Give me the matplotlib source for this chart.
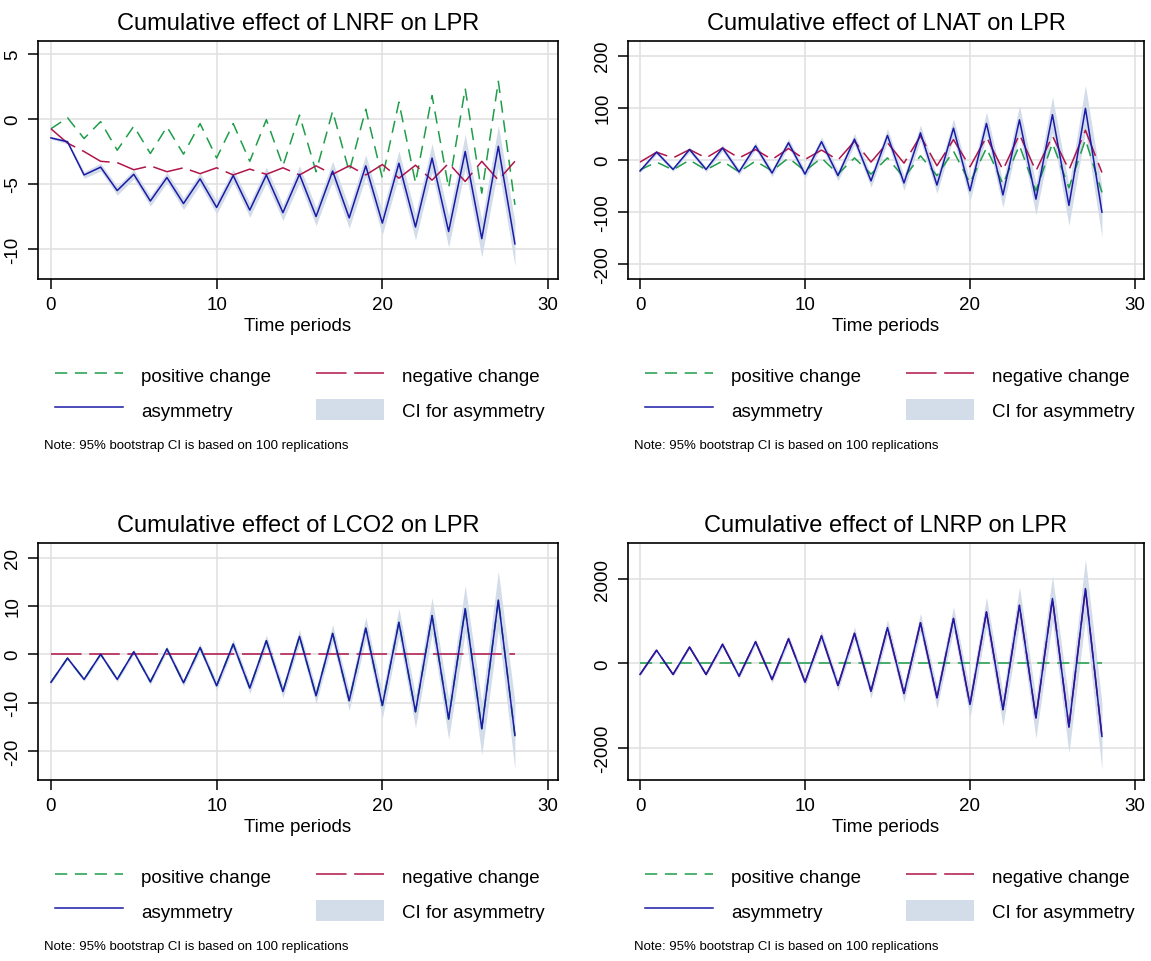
import matplotlib
matplotlib.use("Agg")
import matplotlib.pyplot as plt
from matplotlib.lines import Line2D
from matplotlib.patches import Patch
import numpy as np

plt.rcParams["font.family"] = ["Liberation Sans", "DejaVu Sans"]
plt.rcParams["axes.unicode_minus"] = False

periods = list(range(29))

# --- LNRF ---------------------------------------------------------------
lnrf_pos = [-0.75, 0.1, -1.5, -0.2, -2.4, -0.55, -2.65, -0.6, -2.7, -0.35, -3.0, -0.35,
            -3.25, -0.05, -3.6, 0.3, -4.05, 0.6, -4.05, 0.75, -4.55, 1.3, -4.9, 1.8,
            -5.3, 2.35, -5.7, 2.9, -6.6]
lnrf_neg = [-0.75, -1.85, -2.5, -3.25, -3.35, -3.9, -3.6, -4.05, -3.75, -4.2, -3.75, -4.3,
            -3.85, -4.25, -3.75, -4.3, -3.6, -4.25, -3.6, -4.3, -3.5, -4.55, -3.55, -4.7,
            -3.4, -4.8, -3.25, -4.7, -3.25]
lnrf_asym = [-1.45, -1.75, -4.3, -3.7, -5.5, -4.25, -6.3, -4.5, -6.5, -4.6, -6.8, -4.35,
             -7.0, -4.3, -7.2, -4.25, -7.5, -4.0, -7.6, -3.6, -8.0, -3.4, -8.3, -3.0,
             -8.65, -2.5, -9.2, -2.1, -9.6]
lnrf_ci_hw = [0.1, 0.15, 0.25, 0.3, 0.35, 0.35, 0.4, 0.4, 0.45, 0.45, 0.5, 0.5, 0.55, 0.6,
              0.6, 0.65, 0.7, 0.75, 0.8, 0.85, 0.9, 0.95, 1.0, 1.1, 1.2, 1.3, 1.4, 1.6, 1.7]

# --- LNAT ---------------------------------------------------------------
lnat_pos = [-19, -4, -19, 0, -19, -2, -23, -2, -21, 4, -21, 4, -27, 4, -27, 4, -34, 8,
            -30, 17, -44, 23, -46, 28, -59, 32, -53, 39, -62]
lnat_neg = [-4, 15, 4, 20, 4, 23, 4, 20, 1, 22, 1, 19, 0, 36, -4, 33, -6, 46, -11, 39,
            -13, 44, -19, 49, -21, 46, -19, 57, -24]
lnat_asym = [-21, 15, -18, 20, -18, 23, -23, 27, -25, 33, -27, 35, -30, 40, -40, 47, -44,
             52, -48, 61, -59, 70, -67, 77, -75, 87, -87, 99, -100]
lnat_ci_hw = [3, 4, 4, 5, 5, 6, 6, 7, 7, 8, 8, 9, 10, 11, 12, 13, 14, 15, 16, 18, 20,
              22, 24, 27, 30, 34, 38, 44, 48]

# --- LCO2 ---------------------------------------------------------------
lco2_asym = [-5.8, -0.8, -5.2, 0.0, -5.2, 0.5, -5.7, 1.1, -5.9, 1.4, -6.5, 2.1, -7.0, 2.8,
             -7.7, 3.7, -8.6, 4.3, -9.6, 5.4, -10.6, 6.6, -11.9, 8.0, -13.4, 9.4, -15.4,
             11.2, -16.8]
lco2_pos = [-5.8, -0.8, -5.2, 0.0, -5.2, 0.5, -5.7, 1.1, -5.9, 1.4, -6.5, 2.1, -7.0, 2.8,
            -7.7, 3.7, -8.6, 4.3, -9.6, 5.4, -10.6, 6.6, -11.9, 8.0, -13.4, 9.4, -15.4,
            11.2, -16.8]
lco2_neg = [0.0] * 29
lco2_ci_hw = [0.3, 0.3, 0.4, 0.4, 0.5, 0.5, 0.6, 0.6, 0.7, 0.8, 0.9, 1.0, 1.1, 1.2, 1.3,
              1.4, 1.6, 1.8, 2.0, 2.3, 2.6, 2.9, 3.3, 3.7, 4.2, 4.8, 5.4, 6.0, 7.0]

# --- LNRP ---------------------------------------------------------------
lnrp_asym = [-260, 310, -260, 385, -260, 450, -300, 510, -380, 580, -440, 650, -520, 710,
             -655, 845, -710, 960, -810, 1060, -970, 1215, -1090, 1370, -1285, 1530,
             -1500, 1765, -1720]
lnrp_neg = [-260, 310, -260, 385, -260, 450, -300, 510, -380, 580, -440, 650, -520, 710,
            -655, 845, -710, 960, -810, 1060, -970, 1215, -1090, 1370, -1285, 1530,
            -1500, 1765, -1720]
lnrp_pos = [0.0] * 29
lnrp_ci_hw = [30, 35, 40, 45, 50, 60, 65, 75, 85, 95, 105, 120, 135, 150, 165, 185, 205,
              225, 250, 280, 310, 345, 385, 430, 480, 540, 610, 700, 790]

titles = ["Cumulative effect of LNRF on LPR", "Cumulative effect of LNAT on LPR",
          "Cumulative effect of LCO2 on LPR", "Cumulative effect of LNRP on LPR"]
yticks = [[-10, -5, 0, 5], [-200, -100, 0, 100, 200], [-20, -10, 0, 10, 20], [-2000, 0, 2000]]
ylims = [(-12.3, 6.0), (-228, 228), (-26, 23), (-2750, 2840)]

GREEN = "#1e9e4a"
RED = "#b0154a"
BLUE = "#1a1aa8"
BAND = "#d3dce9"
GRID = "#e2e2e2"

W, H = 1151, 962
fig = plt.figure(figsize=(W / 100, H / 100), dpi=100)

# axes boxes in pixels: left, top, right, bottom
boxes = [(38, 42, 558, 280), (628, 42, 1144, 280), (38, 544, 558, 781), (628, 544, 1144, 781)]
xlims = [(-0.78, 30.6), (-0.73, 30.55), (-0.78, 30.6), (-0.73, 30.55)]

data = [
    (lnrf_pos, lnrf_neg, lnrf_asym, lnrf_ci_hw),
    (lnat_pos, lnat_neg, lnat_asym, lnat_ci_hw),
    (lco2_pos, lco2_neg, lco2_asym, lco2_ci_hw),
    (lnrp_pos, lnrp_neg, lnrp_asym, lnrp_ci_hw),
]

for i, (pos, neg, asym, hw) in enumerate(data):
    l, t, r, b = boxes[i]
    ax = fig.add_axes([l / W, 1 - b / H, (r - l) / W, (b - t) / H])
    asym_a = np.array(asym, dtype=float)
    hw_a = np.array(hw, dtype=float)
    ax.fill_between(periods, asym_a - hw_a, asym_a + hw_a, color=BAND, lw=0, zorder=1)
    ax.plot(periods, pos, color=GREEN, lw=1.1, dashes=(8, 5), zorder=2)
    ax.plot(periods, neg, color=RED, lw=1.1, dashes=(20, 5), zorder=3)
    ax.plot(periods, asym, color=BLUE, lw=1.1, zorder=4)

    ax.set_xlim(*xlims[i])
    ax.set_ylim(*ylims[i])
    ax.set_xticks([0, 10, 20, 30])
    ax.set_yticks(yticks[i])
    ax.grid(True, color=GRID, lw=1.2)
    ax.set_axisbelow(True)
    for s in ax.spines.values():
        s.set_linewidth(1.2)
        s.set_color("black")
    ax.tick_params(axis="both", direction="out", length=7, width=1.1, labelsize=13.5, pad=5)
    for lab in ax.get_yticklabels():
        lab.set_rotation(90)
        lab.set_va("center")
    ax.set_xlabel("Time periods", fontsize=13.5, labelpad=3)
    ax.set_title(titles[i], fontsize=17, pad=9)

    handles = [
        Line2D([], [], color=GREEN, lw=1.1, dashes=(8, 5)),
        Line2D([], [], color=BLUE, lw=1.1),
        Line2D([], [], color=RED, lw=1.1, dashes=(20, 5)),
        Patch(facecolor=BAND, edgecolor="none"),
    ]
    labels = ["positive change", "asymmetry", "negative change", "CI for asymmetry"]
    ax.legend(handles, labels, ncol=2, loc="upper left",
              bbox_to_anchor=(17 / (r - l), -85 / (b - t)),
              frameon=False, fontsize=13.5, handlelength=3.6, handleheight=1.4,
              handletextpad=1.0, columnspacing=2.4, labelspacing=0.7, borderpad=0,
              borderaxespad=0)
    fig.text((l + 6) / W, 1 - (b + 166) / H,
             "Note: 95% bootstrap CI is based on 100 replications",
             fontsize=9.5, va="center", ha="left")

fig.savefig("out.png", dpi=100, facecolor="white")
